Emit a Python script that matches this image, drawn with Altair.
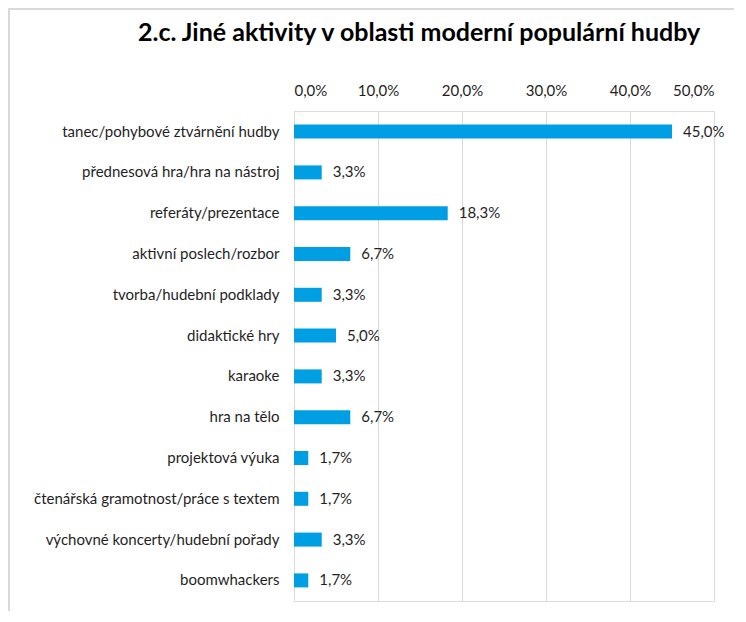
import altair as alt
import pandas as pd

categories = [
    "tanec/pohybové ztvárnění hudby",
    "přednesová hra/hra na nástroj",
    "referáty/prezentace",
    "aktivní poslech/rozbor",
    "tvorba/hudební podklady",
    "didaktické hry",
    "karaoke",
    "hra na tělo",
    "projektová výuka",
    "čtenářská gramotnost/práce s textem",
    "výchovné koncerty/hudební pořady",
    "boomwhackers",
]
values = [45.0, 3.3, 18.3, 6.7, 3.3, 5.0, 3.3, 6.7, 1.7, 1.7, 3.3, 1.7]
title_text = "2.c. Jiné aktivity v oblasti moderní populární hudby"

df = pd.DataFrame({"cat": categories, "v": values})

FONT = "Lato"
FS = 15
BLUE = "#009FE3"
TXT = "#1f1f1f"

base = alt.Chart(df).encode(
    y=alt.Y("cat:N", sort=categories, title=None,
            scale=alt.Scale(paddingInner=0.65, paddingOuter=0.33),
            axis=alt.Axis(ticks=False, domain=False, labelPadding=15, labelLimit=400,
                          labelFontSize=FS, labelColor=TXT, labelFont=FONT)),
)

bars = base.mark_bar(color=BLUE, size=14).encode(
    x=alt.X("v:Q", title=None,
            scale=alt.Scale(domain=[0, 50], nice=False),
            axis=alt.Axis(orient="top", values=[0, 10, 20, 30, 40, 50],
                          labelExpr="replace(format(datum.value, '.1f'), '.', ',') + '%'",
                          ticks=False, domain=False, grid=True, gridColor="#d9d9d9",
                          labelPadding=13, labelFontSize=FS, labelColor=TXT, labelFont=FONT)),
)

labels = base.mark_text(align="left", dx=11, fontSize=FS, font=FONT, color=TXT).encode(
    x="v:Q",
    text="lbl:N",
).transform_calculate(lbl="replace(format(datum.v, '.1f'), '.', ',') + '%'")

border_top = alt.Chart(df).mark_rule(color="#d9d9d9", strokeWidth=1.5).encode(
    x=alt.value(-286), x2=alt.value(440), y=alt.value(-102))
border_left = alt.Chart(df).mark_rule(color="#d9d9d9", strokeWidth=1.5).encode(
    x=alt.value(-285), y=alt.value(-102), y2=alt.value(500))

chart = alt.layer(border_top, border_left, bars, labels).properties(
    width=420, height=490,
    autosize=alt.AutoSizeParams(type="none"),
    padding={"left": 286, "top": 103, "right": 20, "bottom": 10},
    title=alt.TitleParams(title_text, font=FONT, fontSize=25, fontWeight="bold",
                          color="#000000", anchor="start", frame="group",
                          dx=-156, offset=0, dy=38),
).configure_view(stroke=None).configure(background="white")

chart.save("out.html", embed_options={"renderer": "svg", "actions": False})
